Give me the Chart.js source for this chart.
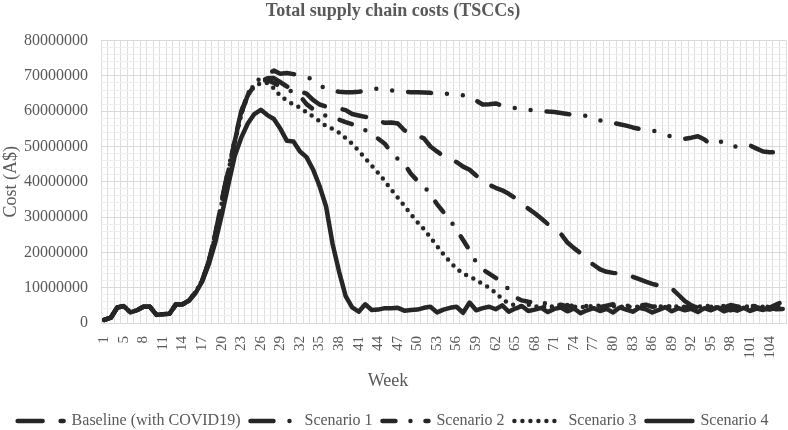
<!DOCTYPE html>
<html>
<head>
<meta charset="utf-8">
<title>Total supply chain costs (TSCCs)</title>
<script src="https://cdn.jsdelivr.net/npm/chart.js@4.4.1/dist/chart.umd.min.js"></script>
<style>
  html, body { margin: 0; padding: 0; background: #fff; }
  #wrap { width: 788px; height: 430px; position: relative; }
</style>
</head>
<body>
<div id="wrap"><canvas id="tscc"></canvas></div>
<script>
// ── Data: weekly cost, A$ millions ─────────────────────────────

const weeks = [1, 2, 3, 5, 6, 7, 8, 9, 10, 11, 12, 13, 14, 15, 16, 17, 18, 19, 20, 21,
  22, 23, 24, 25, 26, 27, 28, 29, 30, 31, 32, 33, 34, 35, 36, 37, 38, 39, 40, 41,
  42, 43, 44, 45, 46, 47, 48, 49, 50, 51, 52, 53, 54, 55, 56, 57, 58, 59, 60, 61,
  62, 63, 64, 65, 66, 67, 68, 69, 70, 71, 72, 73, 74, 75, 76, 77, 78, 79, 80, 81,
  82, 83, 84, 85, 86, 87, 88, 89, 90, 91, 92, 93, 94, 95, 96, 97, 98, 99, 100, 101,
  102, 103, 104, 105, 106];

const baseline = [
  0.9, 1.5, 4.4, 4.8, 3.0, 3.6, 4.6, 4.6, 2.3, 2.5,
  2.6, 5.3, 5.3, 6.4, 8.8, 12.0, 17.3, 25.0, 34.4, 43.0,
  51.5, 59.5, 64.5, 67.3, 68.6, 69.3, 69.4, 68.2, 67.0, 66.2,
  65.6, 65.0, 63.2, 61.9, 61.3, 61.0, 60.8, 60.3, 59.2, 58.8,
  58.4, 58.2, 57.3, 56.7, 56.8, 56.5, 54.6, 53.6, 53.0, 52.3,
  50.0, 48.6, 47.3, 46.3, 45.6, 44.3, 43.4, 41.8, 40.4, 39.1,
  38.3, 37.6, 36.6, 35.4, 33.6, 32.4, 31.1, 29.6, 28.0, 26.6,
  25.2, 22.8, 21.2, 19.8, 17.8, 16.5, 15.2, 14.5, 14.2, 14.0,
  13.6, 13.1, 12.4, 11.7, 11.1, 10.6, 10.2, 9.8, 8.0, 6.2,
  5.0, 4.5, 4.2, 3.8, 4.4, 4.0, 3.6, 4.3, 4.1, 3.7,
  4.5, 4.0, 3.8, 4.4, 4.2];

const scenario1 = [
  0.9, 1.5, 4.4, 4.8, 3.0, 3.6, 4.6, 4.6, 2.3, 2.5,
  2.6, 5.3, 5.3, 6.4, 8.8, 12.0, 17.3, 25.0, 34.4, 43.5,
  52.0, 60.0, 65.0, 67.8, 69.5, 70.5, 71.5, 70.6, 70.8, 70.5,
  70.1, 69.6, 69.1, 67.5, 66.2, 65.8, 65.5, 65.4, 65.4, 65.5,
  65.7, 66.3, 66.4, 66.0, 65.9, 65.7, 65.5, 65.4, 65.4, 65.3,
  65.2, 65.0, 65.1, 64.8, 64.8, 64.5, 64.2, 63.0, 61.9, 62.0,
  62.2, 61.6, 61.4, 60.9, 60.8, 60.4, 60.2, 60.1, 59.9, 59.8,
  59.5, 59.2, 59.0, 58.9, 58.6, 58.2, 57.4, 57.0, 56.7, 56.3,
  55.9, 55.4, 55.0, 54.8, 54.6, 54.0, 53.3, 52.8, 52.4, 52.2,
  52.5, 52.9, 52.0, 50.5, 51.0, 51.6, 50.5, 49.8, 50.0, 50.3,
  49.4, 48.6, 48.4, 48.4, 48.4];

const scenario2 = [
  0.9, 1.5, 4.4, 4.8, 3.0, 3.6, 4.6, 4.6, 2.3, 2.5,
  2.6, 5.3, 5.3, 6.4, 8.8, 12.0, 17.3, 25.0, 34.4, 43.0,
  51.5, 59.5, 65.0, 67.5, 68.5, 68.8, 68.0, 67.0, 66.2, 65.4,
  64.3, 62.0, 60.6, 59.6, 58.7, 58.2, 57.6, 56.9, 56.3, 55.7,
  54.6, 53.5, 52.2, 50.8, 48.3, 46.5, 45.0, 42.3, 40.3, 38.9,
  36.3, 33.7, 31.4, 29.2, 26.4, 23.5, 20.6, 17.2, 15.2, 14.0,
  12.8, 11.5, 9.5, 7.3, 6.4, 6.0, 5.8, 6.0, 5.3, 4.8,
  5.2, 4.6, 5.0, 5.4, 4.7, 5.1, 4.5, 4.9, 5.3, 4.6,
  5.0, 4.4, 4.9, 5.2, 4.6, 4.8, 4.3, 4.9, 5.1, 4.5,
  4.8, 4.4, 5.0, 4.6, 4.9, 4.4, 5.1, 4.7, 4.5, 5.0,
  4.6, 4.9, 4.4, 5.2, 6.0];

const scenario3 = [
  0.9, 1.5, 4.4, 4.8, 3.0, 3.6, 4.6, 4.6, 2.3, 2.5,
  2.6, 5.3, 5.3, 6.4, 8.8, 12.0, 17.3, 24.5, 34.0, 43.0,
  51.0, 59.0, 64.5, 67.0, 68.0, 68.0, 66.5, 64.3, 63.0, 61.9,
  61.0, 59.7, 58.5, 57.2, 55.8, 55.0, 53.9, 52.4, 50.8, 48.8,
  46.7, 44.6, 42.5, 40.2, 37.8, 35.5, 33.2, 30.8, 28.6, 26.6,
  24.2, 21.8, 19.5, 17.3, 15.4, 14.0, 13.1, 12.2, 11.0, 10.0,
  8.5, 6.8, 5.6, 5.0, 4.8, 5.2, 4.6, 5.0, 4.4, 4.9,
  4.5, 5.1, 4.7, 4.3, 4.9, 4.6, 5.0, 4.4, 4.8, 4.5,
  4.9, 4.3, 4.7, 5.0, 4.5, 4.8, 4.4, 4.9, 4.6, 4.4,
  4.8, 4.5, 5.0, 4.6, 4.3, 4.9, 4.6, 4.4, 4.8, 4.5,
  4.9, 4.6, 4.3, 4.7, 4.5];

const scenario4 = [
  0.9, 1.5, 4.4, 4.8, 3.0, 3.6, 4.6, 4.6, 2.3, 2.5,
  2.6, 5.3, 5.3, 6.3, 8.5, 11.7, 16.5, 22.7, 30.5, 39.0,
  47.3, 52.5, 56.5, 59.2, 60.4, 58.9, 57.8, 55.0, 51.6, 51.4,
  48.6, 47.0, 43.5, 38.8, 33.0, 22.4, 14.5, 7.6, 4.4, 3.2,
  5.3, 3.7, 3.8, 4.2, 4.2, 4.3, 3.5, 3.7, 3.8, 4.3,
  4.6, 3.0, 3.8, 4.3, 4.6, 2.9, 5.8, 3.6, 4.2, 4.6,
  3.9, 5.0, 3.2, 4.1, 4.8, 3.4, 3.8, 4.3, 3.1, 4.0,
  4.4, 3.3, 4.1, 2.8, 3.6, 4.2, 3.4, 4.0, 3.0, 4.4,
  3.8, 3.2, 4.3, 3.9, 3.0, 3.7, 4.5, 3.3, 4.2, 3.6,
  4.0, 3.1, 4.2, 3.6, 4.4, 3.3, 4.0, 3.5, 4.3, 3.4,
  4.1, 3.7, 4.4, 3.9, 4.0];

const seriesNames = ["Baseline (with COVID19)", "Scenario 1", "Scenario 2", "Scenario 3", "Scenario 4"];

// ── Styling ────────────────────────────────────────────────────

const INK   = "#262626";
const TEXT  = "#595959";
const SERIF = "'Liberation Serif', 'Times New Roman', serif";

// dash patterns for a 4.5px round-capped stroke
const DASHES = [
  [25, 18],                   // long dash
  [23, 16, 0, 16, 0, 16],     // long dash dot dot
  [13, 15, 0, 15],            // dash dot
  [0, 8],                     // round dots
  [],                         // solid
];

Chart.defaults.font.family = SERIF;
Chart.defaults.color = TEXT;

const PLOT_LEFT = 101, PLOT_BOTTOM = 323, PAD_BOTTOM = -9;

// "Week" sits centred on the whole chart, not on the plot area
const weekTitle = {
  id: "weekTitle",
  afterDraw(chart) {
    const c = chart.ctx;
    c.save();
    c.font = "18px " + SERIF;
    c.fillStyle = TEXT;
    c.textAlign = "center";
    c.textBaseline = "middle";
    c.fillText("Week", 388, 381);
    c.restore();
  },
};

const values = [baseline, scenario1, scenario2, scenario3, scenario4];

new Chart(document.getElementById("tscc"), {
  type: "line",
  data: {
    labels: weeks,
    datasets: values.map((d, i) => ({
      label: seriesNames[i],
      data: d,
      borderColor: INK,
      backgroundColor: INK,
      borderWidth: 4.5,
      borderDash: DASHES[i],
      borderCapStyle: "round",
      borderJoinStyle: "round",
      pointRadius: 0,
      tension: 0,
      fill: false,
    })),
  },
  options: {
    responsive: true,
    maintainAspectRatio: false,
    devicePixelRatio: 1,
    animation: false,
    layout: { padding: { left: 0, right: 2, top: 0, bottom: PAD_BOTTOM } },
    plugins: {
      title: {
        display: true,
        text: "Total supply chain costs (TSCCs)",
        color: TEXT,
        font: { size: 18, weight: "bold" },
        padding: { top: 1, bottom: 18 },
      },
      legend: {
        position: "bottom",
        labels: {
          usePointStyle: true,
          pointStyle: "line",
          pointStyleWidth: 46,
          padding: 10,
          color: TEXT,
          font: { size: 16 },
          // point-style legend items lose the dataset dash, put it back
          generateLabels: chart =>
            Chart.defaults.plugins.legend.labels.generateLabels(chart).map(item => ({
              ...item,
              lineDash: DASHES[item.datasetIndex],
              lineCap: "round",
              lineWidth: 4.5,
            })),
        },
      },
      tooltip: { enabled: false },
    },
    scales: {
      x: {
        offset: true,
        grid: { offset: true, color: "#dedede", drawTicks: false },
        border: { color: "#d9d9d9" },
        ticks: {
          autoSkip: false,
          maxRotation: 90,
          minRotation: 90,
          padding: 13,
          color: TEXT,
          font: { size: 15 },
          callback: (v, i) => (i % 3 === 0 ? String(weeks[i]) : ""),
        },
        afterFit: s => {
          s.paddingLeft = 0;
          s.paddingRight = 0;
          s.height = s.chart.height - PAD_BOTTOM - PLOT_BOTTOM - s.chart.legend.height;
        },
      },
      y: {
        min: 0,
        max: 80,
        border: { display: false },
        grid: {
          drawTicks: false,
          color: c => (Math.round(c.tick.value) % 10 === 0 ? "#d9d9d9" : "#eeeeee"),
        },
        ticks: {
          stepSize: 2,
          autoSkip: false,
          padding: 13,
          color: TEXT,
          font: { size: 16 },
          callback: v => (Math.round(v) % 10 === 0 ? String(Math.round(v) * 1000000) : ""),
        },
        title: {
          display: true,
          text: "Cost (A$)",
          color: TEXT,
          font: { size: 18 },
          padding: 0,
        },
        afterFit: s => { s.width = PLOT_LEFT; },
      },
    },
  },
  plugins: [weekTitle],
});
</script>
</body>
</html>
